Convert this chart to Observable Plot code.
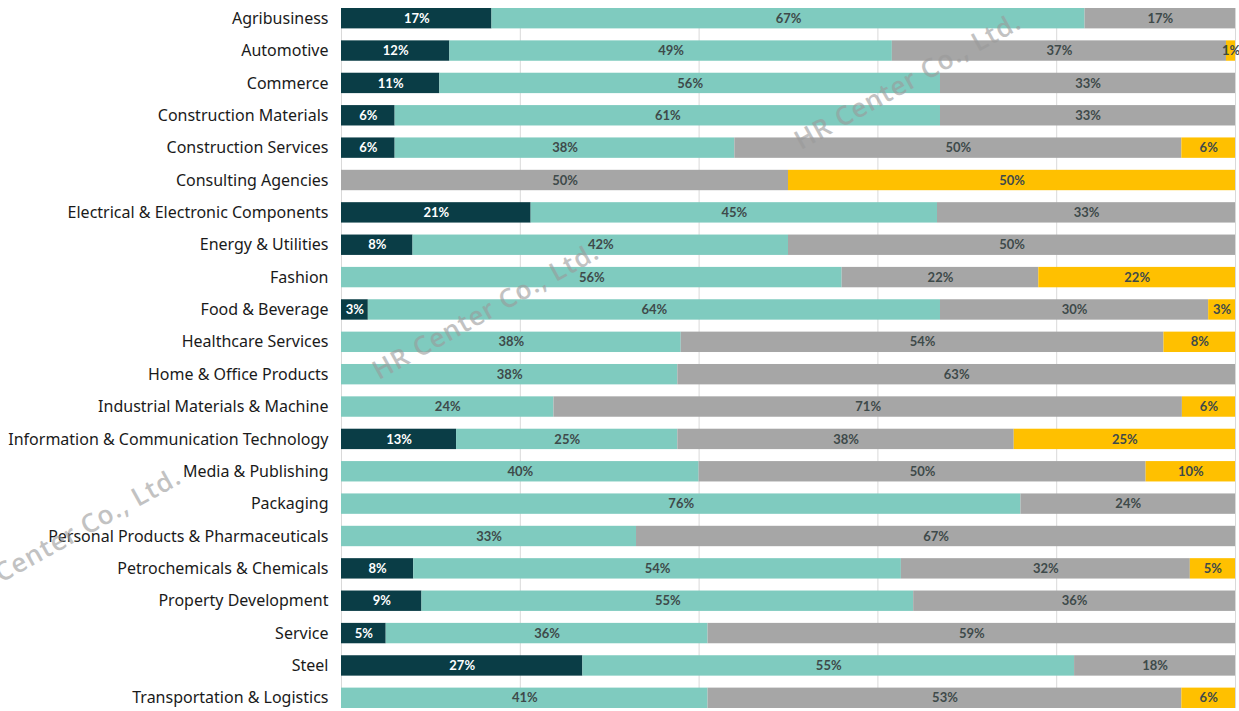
<!DOCTYPE html>
<html>
<head>
<meta charset="utf-8">
<script src="https://cdn.jsdelivr.net/npm/d3@7"></script>
<script src="https://cdn.jsdelivr.net/npm/@observablehq/plot@0.6"></script>
<style>
  html, body { margin: 0; padding: 0; background: #fff; }
  #wrap { position: relative; width: 1239px; height: 711px; overflow: hidden; }
  .wm { position: absolute; font-family: "Open Sans", sans-serif; font-weight: 600; font-size: 26px;
        color: #9a9a9a; opacity: 0.6; white-space: nowrap; transform-origin: center center;
        letter-spacing: 1px; pointer-events: none; }
</style>
</head>
<body>
<div id="wrap"></div>
<script>
const categories = [
  "Agribusiness", "Automotive", "Commerce", "Construction Materials", "Construction Services",
  "Consulting Agencies", "Electrical & Electronic Components", "Energy & Utilities", "Fashion",
  "Food & Beverage", "Healthcare Services", "Home & Office Products", "Industrial Materials & Machine",
  "Information & Communication Technology", "Media & Publishing", "Packaging",
  "Personal Products & Pharmaceuticals", "Petrochemicals & Chemicals", "Property Development",
  "Service", "Steel", "Transportation & Logistics"
];
const seriesNames = ["Series 1", "Series 2", "Series 3", "Series 4"];
const seriesColors = ["#0a3d46", "#7fcbbf", "#a6a6a6", "#ffc000"];
const series1 = [17, 12, 11, 6, 6, 0, 21, 8, 0, 3, 0, 0, 0, 13, 0, 0, 0, 8, 9, 5, 27, 0];
const series2 = [67, 49, 56, 61, 38, 0, 45, 42, 56, 64, 38, 38, 24, 25, 40, 76, 33, 54, 55, 36, 55, 41];
const series3 = [17, 37, 33, 33, 50, 50, 33, 50, 22, 30, 54, 63, 71, 38, 50, 24, 67, 32, 36, 59, 18, 53];
const series4 = [0, 1, 0, 0, 6, 50, 0, 0, 22, 3, 8, 0, 6, 25, 10, 0, 0, 5, 0, 0, 0, 6];
const gridTicks = [0.2, 0.4, 0.6, 0.8, 1];

const allSeries = [series1, series2, series3, series4];
const data = [];
categories.forEach((c, i) => {
  allSeries.forEach((s, j) => data.push({category: c, series: seriesNames[j], value: s[i]}));
});

const stackOpts = (extra) => Plot.stackX({
  x: "value", y: "category", z: "series", offset: "normalize", order: seriesNames, ...extra
});

const chart = Plot.plot({
  width: 1239,
  height: 711,
  marginLeft: 341,
  marginRight: 4,
  marginTop: 8,
  marginBottom: 3,
  style: {fontFamily: "'Noto Sans', sans-serif", background: "#fff"},
  x: {domain: [0, 1], axis: null},
  y: {domain: categories, paddingInner: 0.37, paddingOuter: 0, round: false, axis: null},
  color: {domain: seriesNames, range: seriesColors},
  marks: [
    Plot.ruleX(gridTicks, {stroke: "#d9d9d9", strokeWidth: 1}),
    Plot.ruleX([0], {stroke: "#d9d9d9", strokeWidth: 1}),
    Plot.barX(data, stackOpts({fill: "series"})),
    Plot.text(data, stackOpts({
      text: d => (d.value > 0 && d.series === seriesNames[0]) ? d.value + "%" : null,
      fill: "#ffffff",
      fontFamily: "Lato, sans-serif", fontWeight: "bold", fontSize: 13
    })),
    Plot.text(data, stackOpts({
      text: d => (d.value > 0 && d.series !== seriesNames[0]) ? d.value + "%" : null,
      fill: "#3e4a4a",
      fontFamily: "Lato, sans-serif", fontWeight: "bold", fontSize: 13
    })),
    Plot.axisY({tickSize: 0, tickPadding: 13, fontSize: 16, fill: "#1a1a1a", label: null})
  ]
});

const wrap = document.getElementById("wrap");
wrap.appendChild(chart);

const watermarkText = "HR Center Co., Ltd.";
const watermarks = [[907, 80], [485, 310], [67, 535]];
watermarks.forEach(([cx, cy]) => {
  const d = document.createElement("div");
  d.className = "wm";
  d.textContent = watermarkText;
  wrap.appendChild(d);
  const w = d.offsetWidth, h = d.offsetHeight;
  d.style.left = (cx - w / 2) + "px";
  d.style.top = (cy - h / 2) + "px";
  d.style.transform = "rotate(-29deg)";
});
</script>
</body>
</html>
